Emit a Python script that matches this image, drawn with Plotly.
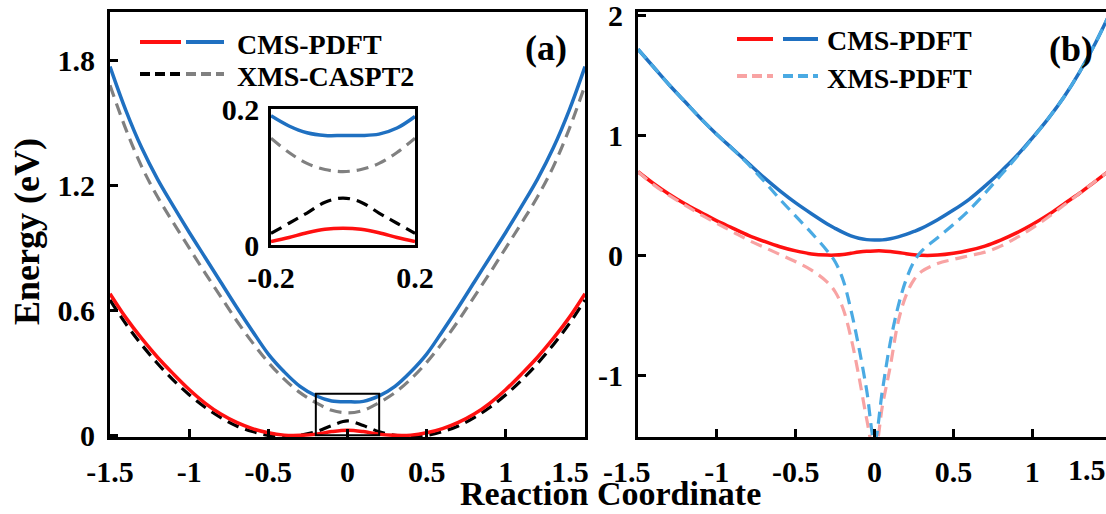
import plotly.graph_objects as go

W, H = 1106, 514
FONT = "Liberation Serif"

# ---------------- data ----------------
# Panel (a): reaction coordinate grid
X_A = [-1.5, -1.4, -1.3, -1.2, -1.1, -1.0, -0.9, -0.8, -0.7, -0.6, -0.5, -0.4, -0.3, -0.2, -0.1,
       0.0, 0.1, 0.2, 0.3, 0.4, 0.5, 0.6, 0.7, 0.8, 0.9, 1.0, 1.1, 1.2, 1.3, 1.4, 1.5]
CMS_LOW_A = [0.68, 0.565, 0.465, 0.375, 0.295, 0.22, 0.155, 0.102, 0.062, 0.032, 0.012, 0.001, 0.0, 0.005, 0.018,
             0.025, 0.018, 0.005, 0.0, 0.001, 0.012, 0.032, 0.062, 0.102, 0.155, 0.22, 0.295, 0.375, 0.465, 0.565, 0.68]
CMS_UP_A = [1.77, 1.56, 1.38, 1.23, 1.10, 0.975, 0.855, 0.735, 0.615, 0.50, 0.39, 0.305, 0.235, 0.19, 0.165,
            0.161, 0.163, 0.189, 0.235, 0.305, 0.39, 0.50, 0.615, 0.735, 0.855, 0.975, 1.10, 1.23, 1.38, 1.56, 1.77]
XMS_LOW_A = [0.65, 0.535, 0.435, 0.345, 0.265, 0.195, 0.135, 0.085, 0.045, 0.018, 0.0, -0.006, 0.0, 0.017, 0.047,
             0.069, 0.047, 0.017, 0.0, -0.006, 0.0, 0.018, 0.045, 0.085, 0.135, 0.195, 0.265, 0.345, 0.435, 0.535, 0.65]
XMS_UP_A = [1.68, 1.47, 1.29, 1.145, 1.02, 0.90, 0.78, 0.665, 0.55, 0.445, 0.35, 0.27, 0.205, 0.157, 0.12,
            0.108, 0.12, 0.157, 0.205, 0.27, 0.35, 0.445, 0.55, 0.665, 0.78, 0.90, 1.02, 1.145, 1.29, 1.47, 1.68]

# Inset of panel (a)
X_IN = [-0.2, -0.15, -0.1, -0.05, 0.0, 0.05, 0.1, 0.15, 0.2]
CMS_LOW_IN = [0.005, 0.011, 0.018, 0.023, 0.0245, 0.023, 0.018, 0.011, 0.005]
CMS_UP_IN = [0.19, 0.175, 0.165, 0.161, 0.161, 0.161, 0.163, 0.172, 0.189]
XMS_LOW_IN = [0.017, 0.032, 0.047, 0.063, 0.069, 0.063, 0.047, 0.032, 0.017]
XMS_UP_IN = [0.157, 0.136, 0.120, 0.111, 0.108, 0.111, 0.120, 0.136, 0.157]

# Panel (b)
X_B = [-1.5, -1.4, -1.3, -1.2, -1.1, -1.0, -0.9, -0.8, -0.7, -0.6, -0.5, -0.4, -0.3,
       -0.25, -0.2, -0.15, -0.1, -0.05, 0.0, 0.05, 0.1, 0.15, 0.2, 0.25,
       0.3, 0.4, 0.5, 0.6, 0.7, 0.8, 0.9, 1.0, 1.1, 1.2, 1.3, 1.4, 1.5]
CMS_LOW_B = [0.70, 0.60, 0.51, 0.43, 0.36, 0.29, 0.23, 0.17, 0.12, 0.075, 0.04, 0.015, 0.005,
             0.005, 0.01, 0.02, 0.03, 0.037, 0.04, 0.04, 0.035, 0.027, 0.017, 0.008,
             0.003, 0.005, 0.02, 0.045, 0.08, 0.13, 0.19, 0.26, 0.34, 0.43, 0.52, 0.62, 0.72]
CMS_UP_B = [1.72, 1.57, 1.42, 1.28, 1.14, 1.01, 0.89, 0.77, 0.65, 0.54, 0.44, 0.35, 0.265,
            0.228, 0.194, 0.166, 0.146, 0.134, 0.13, 0.132, 0.142, 0.157, 0.177, 0.202,
            0.23, 0.30, 0.38, 0.47, 0.58, 0.70, 0.83, 0.98, 1.14, 1.32, 1.53, 1.77, 2.04]
XMS_LOW_B = [0.70, 0.59, 0.50, 0.42, 0.34, 0.27, 0.20, 0.13, 0.07, 0.01, -0.05, -0.12, -0.22,
             -0.30, -0.44, -0.68, -1.0, -1.36, -1.65, -1.25, -0.92, -0.55, -0.33, -0.20,
             -0.13, -0.065, -0.03, 0.0, 0.03, 0.08, 0.15, 0.23, 0.32, 0.42, 0.52, 0.62, 0.72]
XMS_UP_B = [1.72, 1.57, 1.42, 1.28, 1.14, 1.01, 0.89, 0.76, 0.62, 0.47, 0.33, 0.19, 0.04,
            -0.05, -0.20, -0.45, -0.76, -1.12, -1.55, -1.12, -0.72, -0.42, -0.20, -0.05,
            0.04, 0.15, 0.26, 0.38, 0.52, 0.67, 0.82, 0.975, 1.14, 1.32, 1.53, 1.77, 2.04]

NB = "\u00a0"
TICKS_XA = [-1.5, -1, -0.5, 0, 0.5, 1, 1.5]
TICKTEXT_XA = ["-1.5", "-1", "-0.5", "0", "0.5", "1", "1.5" + NB * 4]
TICKTEXT_XB = ["-1.5" + NB * 3, "-1", "-0.5", "0", "0.5", "1", "1.5"]
TICKS_YA = [0, 0.6, 1.2, 1.8]
TICKTEXT_YA = ["0", "0.6", "1.2", "1.8"]
TICKS_YB = [-1, 0, 1, 2]
TICKTEXT_YB = ["-1", "0", "1", "2"]
TICKS_IN_X = [-0.2, 0.2]
TICKTEXT_IN_X = ["-0.2", "0.2"]
TICKS_IN_Y = [0, 0.2]
TICKTEXT_IN_Y = ["0", "0.2"]

INSET_XRANGE = [-0.2, 0.2]
INSET_YRANGE = [0.0, 0.2]

# ---------------- styles ----------------
RED = "#ff1010"
BLUE = "#1f70c1"
GRAY = "#808080"
BLACK = "#000000"
PINK = "#f8a3a3"
LBLUE = "#4aaae3"
DASH = "12px,7px"

fig = go.Figure()


def add(x, y, color, dash, xa, ya, width=3.5):
    fig.add_trace(go.Scatter(
        x=x, y=y, mode="lines", xaxis=xa, yaxis=ya, showlegend=False,
        line=dict(color=color, width=width, dash=dash, shape="spline", smoothing=1.0),
        hoverinfo="skip"))


# panel (a)
add(X_A, XMS_LOW_A, BLACK, DASH, "x", "y", 3.2)
add(X_A, XMS_UP_A, GRAY, DASH, "x", "y", 3.2)
add(X_A, CMS_LOW_A, RED, "solid", "x", "y")
add(X_A, CMS_UP_A, BLUE, "solid", "x", "y")
# inset
add(X_IN, XMS_LOW_IN, BLACK, DASH, "x3", "y3", 3.2)
add(X_IN, XMS_UP_IN, GRAY, DASH, "x3", "y3", 3.2)
add(X_IN, CMS_LOW_IN, RED, "solid", "x3", "y3")
add(X_IN, CMS_UP_IN, BLUE, "solid", "x3", "y3")
# panel (b)
add(X_B, CMS_LOW_B, RED, "solid", "x2", "y2")
add(X_B, CMS_UP_B, BLUE, "solid", "x2", "y2")
add(X_B, XMS_LOW_B, PINK, DASH, "x2", "y2", 3.2)
add(X_B, XMS_UP_B, LBLUE, DASH, "x2", "y2", 3.2)

tickfont = dict(family=FONT, size=30, color="black", weight="bold")
axis_common = dict(showline=True, linewidth=3, linecolor="black", showgrid=False, zeroline=False,
                   ticks="inside", ticklen=8, tickwidth=2.5, tickcolor="black", tickfont=tickfont,
                   automargin=False, ticklabeloverflow="allow")
inset_common = dict(showline=True, linewidth=2.5, linecolor="black", showgrid=False, zeroline=False,
                    ticks="", tickfont=tickfont, automargin=False, mirror=True,
                    ticklabeloverflow="allow")

pa_x = [110 / W, 585 / W]
pb_x = [638 / W, 1.0]
p_y = [1 - 437 / H, 1 - 12 / H]

fig.update_layout(
    template="none",
    width=W, height=H, margin=dict(l=0, r=0, t=0, b=0, pad=0, autoexpand=False),
    paper_bgcolor="white", plot_bgcolor="white", showlegend=False,
    xaxis=dict(domain=pa_x, range=[-1.5, 1.5], anchor="y", mirror=True,
               tickvals=TICKS_XA, ticktext=TICKTEXT_XA, ticklabelstandoff=6, **axis_common),
    yaxis=dict(domain=p_y, range=[-0.008, 2.032], anchor="x", mirror=True,
               tickvals=TICKS_YA, ticktext=TICKTEXT_YA, ticklabelstandoff=6, **axis_common),
    xaxis2=dict(domain=pb_x, range=[-1.5, -1.5 + (W - 638) / 157.7], anchor="y2", mirror=True,
                tickvals=TICKS_XA, ticktext=TICKTEXT_XB, ticklabelstandoff=6, **axis_common),
    yaxis2=dict(domain=p_y, range=[-1.51, 2.03], anchor="x2", mirror=False,
                tickvals=TICKS_YB, ticktext=TICKTEXT_YB, ticklabelstandoff=6, **axis_common),
    xaxis3=dict(domain=[271 / W, 415 / W], range=INSET_XRANGE, anchor="y3",
                tickvals=TICKS_IN_X, ticktext=TICKTEXT_IN_X, ticklabelstandoff=4, **inset_common),
    yaxis3=dict(domain=[1 - 245 / H, 1 - 109 / H], range=INSET_YRANGE, anchor="x3",
                tickvals=TICKS_IN_Y, ticktext=TICKTEXT_IN_Y, ticklabelstandoff=3, **inset_common),
)

# zoom box in panel (a) marking the inset region
fig.add_shape(type="rect", xref="x", yref="y", x0=INSET_XRANGE[0], x1=INSET_XRANGE[1],
              y0=INSET_YRANGE[0], y1=INSET_YRANGE[1], line=dict(color="black", width=2))


# manual legends
def leg_line(x0, x1, y, color, dash):
    fig.add_shape(type="line", xref="paper", yref="paper", x0=x0 / W, x1=x1 / W,
                  y0=1 - y / H, y1=1 - y / H, line=dict(color=color, width=4, dash=dash))


def text(t, x, y, size, xanchor="center", angle=0):
    fig.add_annotation(text=t, xref="paper", yref="paper", x=x / W, y=1 - y / H,
                       xanchor=xanchor, yanchor="middle", showarrow=False, textangle=angle,
                       borderpad=0,
                       font=dict(family=FONT, size=size, color="black", weight="bold"))


leg_line(140, 181, 42, RED, "solid")
leg_line(186, 224, 42, BLUE, "solid")
leg_line(140, 181, 74, BLACK, "10px,5px")
leg_line(186, 224, 74, GRAY, "10px,5px")
text("CMS-PDFT", 236, 44, 28, "left")
text("XMS-CASPT2", 236, 76, 28, "left")

leg_line(737, 773, 39, RED, "solid")
leg_line(783, 818, 39, BLUE, "solid")
leg_line(737, 773, 76, PINK, "10px,5px")
leg_line(783, 818, 76, LBLUE, "10px,5px")
text("CMS-PDFT", 826, 41, 28, "left")
text("XMS-PDFT", 826, 78, 28, "left")

text("(a)", 546, 48, 36)
text("(b)", 1071, 49, 36)
text("Reaction Coordinate", 610, 493, 34)
text("Energy (eV)", 27, 232, 36, angle=-90)
text("1.5", 1087, 469, 30)

fig.write_html("out.html")
